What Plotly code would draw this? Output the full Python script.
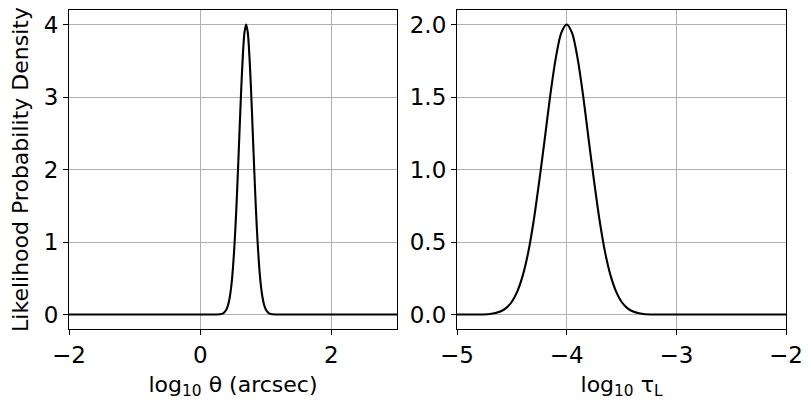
import plotly.graph_objects as go

# Left panel: log10 theta (arcsec) likelihood
theta_x = [-2.0, 0.0, 0.3, 0.35, 0.4, 0.425, 0.45, 0.475, 0.5, 0.525, 0.55, 0.575, 0.6,
           0.625, 0.65, 0.675, 0.7, 0.725, 0.75, 0.775, 0.8, 0.825, 0.85, 0.875, 0.9,
           0.925, 0.95, 0.975, 1.0, 1.05, 1.1, 1.4, 3.0]
theta_y = [0.0, 0.0, 0.003, 0.015, 0.068, 0.13, 0.235, 0.40, 0.65, 1.00, 1.44, 1.97, 2.54,
           3.10, 3.57, 3.89, 4.00, 3.89, 3.57, 3.10, 2.54, 1.97, 1.44, 1.00, 0.65,
           0.40, 0.235, 0.13, 0.068, 0.015, 0.003, 0.0, 0.0]

# Right panel: log10 tau_L likelihood
tau_x = [-5.0, -4.9, -4.8, -4.7, -4.65, -4.6, -4.55, -4.5, -4.45, -4.4, -4.35, -4.3, -4.25,
         -4.2, -4.15, -4.1, -4.05, -4.0, -3.95, -3.9, -3.85, -3.8, -3.75, -3.7, -3.65,
         -3.6, -3.55, -3.5, -3.45, -3.4, -3.35, -3.3, -3.2, -3.1, -2.0]
tau_y = [0.0, 0.0, 0.0003, 0.004, 0.010, 0.022, 0.046, 0.088, 0.16, 0.27, 0.43, 0.65, 0.92,
         1.21, 1.51, 1.765, 1.94, 2.00, 1.94, 1.765, 1.51, 1.21, 0.92, 0.65, 0.43,
         0.27, 0.16, 0.088, 0.046, 0.022, 0.010, 0.004, 0.0003, 0.0, 0.0]

left_ticks = [-2, 0, 2]
left_yticks = [0, 1, 2, 3, 4]
right_ticks = [-5, -4, -3, -2]
right_yticks = [0.0, 0.5, 1.0, 1.5, 2.0]
right_yticklabels = ["0.0", "0.5", "1.0", "1.5", "2.0"]

FONT = "DejaVu Sans"
FS = 23
TS = 22
fig = go.Figure()
fig.add_trace(go.Scatter(x=theta_x, y=theta_y, mode="lines",
                         line=dict(color="black", width=2.1, shape="spline", smoothing=0.8),
                         xaxis="x", yaxis="y", showlegend=False))
fig.add_trace(go.Scatter(x=tau_x, y=tau_y, mode="lines",
                         line=dict(color="black", width=2.1, shape="spline", smoothing=0.8),
                         xaxis="x2", yaxis="y2", showlegend=False))

common = dict(showline=True, linecolor="black", linewidth=1.2, mirror=True,
              ticks="outside", ticklen=5, tickwidth=1.2, tickcolor="black",
              showgrid=True, gridcolor="#b0b0b0", gridwidth=1, zeroline=False,
              automargin=False,
              tickfont=dict(family=FONT, size=FS, color="black"))

tfont = dict(family=FONT, size=TS, color="black")
fig.update_layout(
    width=811, height=411,
    margin=dict(l=0, r=0, t=0, b=0),
    paper_bgcolor="white", plot_bgcolor="white",
    xaxis=dict(domain=[69/811, 397/811], range=[-2, 3], tickvals=left_ticks,
               anchor="y",
               title=dict(text="log<sub>10</sub> θ (arcsec)", font=tfont, standoff=9),
               **common),
    yaxis=dict(domain=[(411-329)/411, (411-10)/411], range=[-0.2, 4.2], tickvals=left_yticks,
               anchor="x",
               title=dict(text="Likelihood Probability Density", font=tfont, standoff=8),
               **common),
    xaxis2=dict(domain=[457/811, 786/811], range=[-5, -2], tickvals=right_ticks,
                anchor="y2",
                title=dict(text="log<sub>10</sub> τ<sub>L</sub>", font=tfont, standoff=9),
                **common),
    yaxis2=dict(domain=[(411-329)/411, (411-10)/411], range=[-0.1, 2.1], tickvals=right_yticks,
                ticktext=right_yticklabels, anchor="x2", **common),
)

fig.write_html("out.html")
